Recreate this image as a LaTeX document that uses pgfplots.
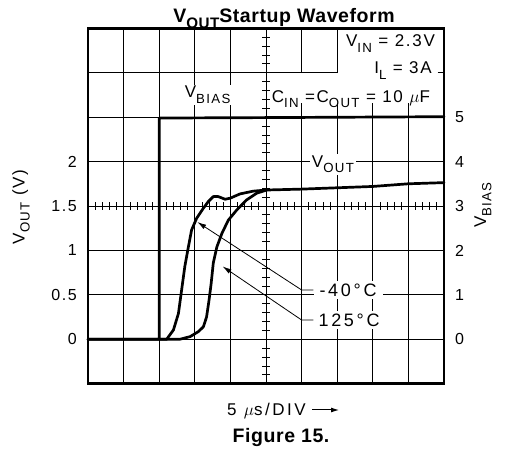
\documentclass[border=0pt]{standalone}
\usepackage{fontspec}
\setmainfont{Liberation Sans}[LetterSpace=10]
\newfontfamily\figfont{Liberation Sans}[LetterSpace=3]
\newfontfamily\widefont{Liberation Sans}[LetterSpace=15]
\usepackage{pgfplots}
\pgfplotsset{compat=1.18}
\usetikzlibrary{arrows.meta}

\newcommand{\sub}[1]{\raisebox{-0.3em}{\scalebox{0.78}{#1}}}
\newcommand{\lblfont}{\fontsize{17bp}{19bp}\selectfont}
\newcommand{\tickfont}{\fontsize{16bp}{18bp}\selectfont}

% V_OUT at -40 C and 125 C (x in divisions of 5 us)
\pgfplotstableread{
x v
0 0
2.21 0
2.40 0.105
2.54 0.29
2.63 0.555
2.72 0.82
2.82 1.04
2.91 1.23
3.05 1.36
3.24 1.475
3.38 1.55
3.52 1.606
3.66 1.606
3.85 1.576
3.99 1.587
4.27 1.636
4.64 1.667
5.02 1.68
6.0 1.69
7.0 1.705
8.0 1.72
8.5 1.735
9.0 1.75
10 1.763
}\coldcurve
\pgfplotstableread{
x v
2.0 0
2.58 0
2.87 0.03
3.10 0.086
3.24 0.14
3.33 0.25
3.40 0.44
3.46 0.63
3.52 0.86
3.62 1.04
3.76 1.19
3.94 1.34
4.18 1.456
4.46 1.57
4.74 1.644
5.02 1.68
}\hotcurve

\begin{document}
\begin{tikzpicture}[
  grid/.style={black, line width=0.8bp},
  curve/.style={black, line width=2.7bp, line join=round, line cap=round},
  ann/.style={black, line width=0.8bp, -{Latex[length=9bp,width=5bp]}},
]
\useasboundingbox (0,0) rectangle (506bp,449bp);
\begin{axis}[
  at={(88bp,65.3bp)}, anchor=south west,
  scale only axis, width=356bp, height=355.4bp,
  xmin=0, xmax=10, ymin=-0.5, ymax=3.5,
  xtick=\empty, ytick={0,0.5,1,1.5,2}, yticklabels={0,0.5,1,1.5,2},
  major tick length=0, axis line style={draw=none},
  yticklabel style={font=\tickfont, inner sep=0pt, xshift=-11bp},
  clip=false,
]
% grid, with the gaps left for the text box
\pgfplotsinvokeforeach{0,0.5,1,1.5,2,2.5}{\draw[grid] (axis cs:0,#1) -- (axis cs:10,#1);}
\draw[grid] (axis cs:0,3) -- (axis cs:7,3) (axis cs:9.82,3) -- (axis cs:10,3);
\pgfplotsinvokeforeach{1,2,3,4,5}{\draw[grid] (axis cs:#1,-0.5) -- (axis cs:#1,3.5);}
\pgfplotsinvokeforeach{6,7}{\draw[grid] (axis cs:#1,-0.5) -- (axis cs:#1,2.66) (axis cs:#1,2.995) -- (axis cs:#1,3.5);}
\pgfplotsinvokeforeach{8,9}{\draw[grid] (axis cs:#1,-0.5) -- (axis cs:#1,2.66);}
% minor ticks on the two centre lines
\pgfplotsinvokeforeach{0.2,0.4,0.6,0.8,1.2,1.4,1.6,1.8,2.2,2.4,2.6,2.8,3.2,3.4,3.6,3.8,4.2,4.4,4.6,4.8,
  5.2,5.4,5.6,5.8,6.2,6.4,6.6,6.8,7.2,7.4,7.6,7.8,8.2,8.4,8.6,8.8,9.2,9.4,9.6,9.8}{
  \draw[grid] (axis cs:#1,1.455) -- (axis cs:#1,1.545);}
\pgfplotsinvokeforeach{-0.4,-0.3,-0.2,-0.1,0.1,0.2,0.3,0.4,0.6,0.7,0.8,0.9,1.1,1.2,1.3,1.4,
  1.6,1.7,1.8,1.9,2.1,2.2,2.3,2.4,2.6,2.7,2.8,2.9,3.1,3.2,3.3,3.4}{
  \draw[grid] (axis cs:4.888,#1) -- (axis cs:5.112,#1);}

\addplot[curve] table[x=x, y=v] {\coldcurve};
\addplot[curve] table[x=x, y=v] {\hotcurve};

% labels
\node[font=\lblfont, fill=white, inner sep=1.5bp, anchor=base] at (axis cs:3.36,2.716) {V\sub{BIAS}};
\node[font=\lblfont, fill=white, inner sep=2bp, anchor=base] at (axis cs:6.88,1.93) {V\sub{OUT}};
\node[font=\lblfont, anchor=base east, inner sep=0pt] at (axis cs:9.75,3.29) {V\sub{IN} = 2.3V};
\node[font=\lblfont, anchor=base east, inner sep=0pt] at (axis cs:9.66,2.986) {I\sub{L} = 3A};
\node[font=\lblfont, anchor=base east, inner sep=0pt] at (axis cs:9.61,2.67) {C\sub{IN} =C\sub{OUT} = 10 $\mu$F};

\draw[ann] (axis cs:6.33,0.555) -- (axis cs:6.0,0.555) -- (axis cs:3.07,1.32);
\draw[ann] (axis cs:6.33,0.217) -- (axis cs:6.0,0.217) -- (axis cs:3.78,0.82);
\node[font=\widefont\fontsize{18bp}{20bp}\selectfont, fill=white, anchor=west, inner xsep=6bp, inner ysep=3bp] at (axis cs:6.33,0.555) {-40°C};
\node[font=\widefont\fontsize{18bp}{20bp}\selectfont, fill=white, anchor=west, inner xsep=5bp, inner ysep=3bp] at (axis cs:6.33,0.217) {125°C};
\end{axis}

\begin{axis}[
  at={(88bp,65.3bp)}, anchor=south west,
  scale only axis, width=356bp, height=355.4bp,
  xmin=0, xmax=10, ymin=-1, ymax=7,
  axis x line=none, axis y line*=right, axis line style={draw=none},
  ytick={0,...,5}, yticklabels={0,1,2,3,4,5},
  major tick length=0,
  yticklabel style={font=\tickfont, inner sep=0pt, xshift=11bp},
  clip=false,
]
\addplot[curve] coordinates {(0,0) (2.0,0) (2.0,4.98) (5,4.99) (10,5.01)};
\draw[line width=2.8bp] (rel axis cs:0,0) rectangle (rel axis cs:1,1);
\end{axis}

\node[font=\lblfont, rotate=90] at (21bp,242bp) {V\sub{OUT} (V)};
\node[font=\lblfont, rotate=90] at (483bp,244bp) {V\sub{BIAS}};
\node[font=\figfont\fontsize{19.5bp}{21bp}\selectfont\bfseries, anchor=base] at (284bp,426bp) {V\sub{OUT}Startup Waveform};
\node[font=\widefont\lblfont, anchor=base east, inner sep=0pt] (dv) at (306bp,34bp) {5 $\mu$s/DIV};
\draw[line width=1bp, -{Latex[length=8bp,width=5bp]}] (312bp,39bp) -- (339bp,39bp);
\node[font=\figfont\fontsize{19.5bp}{21bp}\selectfont\bfseries, anchor=base] at (281bp,7bp) {Figure 15.};
\end{tikzpicture}
\end{document}
